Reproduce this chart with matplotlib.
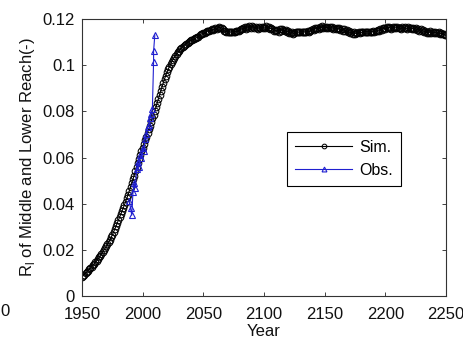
import matplotlib
matplotlib.use("Agg")
import matplotlib.pyplot as plt

plt.rcParams['font.family'] = ['Liberation Sans', 'DejaVu Sans']
plt.rcParams['mathtext.fontset'] = 'custom'
plt.rcParams['mathtext.rm'] = 'Liberation Sans'

# ---------------- data ----------------
sim_years = list(range(1950, 2251))
sim_rising = [
    0.0084, 0.0088, 0.0093, 0.0098, 0.0104, 0.0110, 0.0115, 0.0121, 0.0127, 0.0133,
    0.0140, 0.0146, 0.0153, 0.0160, 0.0167, 0.0175, 0.0182, 0.0190, 0.0198, 0.0206,
    0.0215, 0.0224, 0.0234, 0.0244, 0.0254, 0.0265, 0.0277, 0.0289, 0.0302, 0.0315,
    0.0328, 0.0341, 0.0354, 0.0367, 0.0381, 0.0395, 0.0409, 0.0424, 0.0439, 0.0455,
    0.0471, 0.0488, 0.0505, 0.0522, 0.0540, 0.0558, 0.0575, 0.0592, 0.0609, 0.0626,
    0.0642, 0.0658, 0.0674, 0.0690, 0.0706, 0.0722, 0.0738, 0.0754, 0.0770, 0.0786,
    0.0802, 0.0819, 0.0836, 0.0854, 0.0872, 0.0890, 0.0907, 0.0924, 0.0940, 0.0955,
    0.0969, 0.0982, 0.0994, 0.1005, 0.1015, 0.1024, 0.1033, 0.1041, 0.1048, 0.1055,
    0.1062, 0.1068, 0.1074, 0.1079, 0.1084, 0.1089, 0.1093, 0.1097, 0.1101, 0.1105,
    0.1108, 0.1111, 0.1113, 0.1116, 0.1118, 0.1120, 0.1124, 0.1130, 0.1134, 0.1137,
    0.1139,
]
sim_plateau = [
    0.1141, 0.1143, 0.1146, 0.1150, 0.1148, 0.1153, 0.1157, 0.1152, 0.1158, 0.1162,
    0.1156, 0.1160, 0.1165, 0.1159, 0.1163, 0.1158, 0.1150, 0.1146, 0.1145, 0.1144,
    0.1145, 0.1144, 0.1144, 0.1145, 0.1144, 0.1145, 0.1146, 0.1147, 0.1150, 0.1154,
    0.1158, 0.1155, 0.1161, 0.1164, 0.1158, 0.1166, 0.1162, 0.1168, 0.1163, 0.1170,
    0.1166, 0.1160, 0.1167, 0.1162, 0.1158, 0.1165, 0.1160, 0.1166, 0.1161, 0.1167,
    0.1163, 0.1168, 0.1160, 0.1164, 0.1157, 0.1162, 0.1155, 0.1150, 0.1153, 0.1147,
    0.1152, 0.1145, 0.1155, 0.1149, 0.1158, 0.1151, 0.1146, 0.1153, 0.1142, 0.1148,
    0.1140, 0.1138, 0.1144, 0.1136, 0.1141, 0.1143, 0.1144, 0.1144, 0.1143, 0.1144,
    0.1144, 0.1145, 0.1144, 0.1145, 0.1144, 0.1146, 0.1145, 0.1148, 0.1152, 0.1156,
    0.1153, 0.1160, 0.1157, 0.1163, 0.1158, 0.1166, 0.1161, 0.1168, 0.1163, 0.1167,
    0.1162, 0.1166, 0.1159, 0.1164, 0.1160, 0.1165, 0.1158, 0.1163, 0.1157, 0.1161,
    0.1156, 0.1160, 0.1153, 0.1158, 0.1150, 0.1155, 0.1146, 0.1151, 0.1142, 0.1147,
    0.1139, 0.1144, 0.1137, 0.1142, 0.1136, 0.1141, 0.1138, 0.1143, 0.1140, 0.1142,
    0.1143, 0.1144, 0.1144, 0.1145, 0.1144, 0.1145, 0.1144, 0.1145, 0.1145, 0.1146,
    0.1145, 0.1147, 0.1149, 0.1152, 0.1150, 0.1156, 0.1153, 0.1159, 0.1162, 0.1157,
    0.1164, 0.1160, 0.1166, 0.1161, 0.1158, 0.1165, 0.1160, 0.1167, 0.1162, 0.1165,
    0.1159, 0.1163, 0.1157, 0.1164, 0.1160, 0.1166, 0.1161, 0.1158, 0.1164, 0.1160,
    0.1163, 0.1157, 0.1162, 0.1155, 0.1160, 0.1153, 0.1158, 0.1150, 0.1155, 0.1148,
    0.1152, 0.1144, 0.1148, 0.1140, 0.1145, 0.1141, 0.1146, 0.1138, 0.1143, 0.1139,
    0.1144, 0.1140, 0.1138, 0.1142, 0.1136, 0.1140, 0.1137, 0.1135, 0.1132, 0.1130,
]
sim_values = sim_rising + sim_plateau

obs_years = [1989, 1990, 1991, 1992, 1993, 1994, 1995, 1996, 1997, 1998, 1999,
             2000, 2001, 2002, 2003, 2004, 2005, 2006, 2007, 2008, 2009, 2009, 2010]
obs_values = [0.041, 0.038, 0.035, 0.045, 0.049, 0.047, 0.055, 0.058, 0.056, 0.061,
              0.060, 0.064, 0.063, 0.068, 0.070, 0.073, 0.074, 0.077, 0.079, 0.081,
              0.1015, 0.106, 0.113]

x_ticks = [1950, 2000, 2050, 2100, 2150, 2200, 2250]
y_ticks = [0, 0.02, 0.04, 0.06, 0.08, 0.1, 0.12]
y_ticklabels = ['0', '0.02', '0.04', '0.06', '0.08', '0.1', '0.12']

# ---------------- figure ----------------
W, H = 463, 341
fig = plt.figure(figsize=(W / 100, H / 100), dpi=100)
ax = fig.add_axes([82 / W, (H - 296) / H, 364 / W, 277 / H])

ax.plot(sim_years, sim_values, color='black', lw=0.8, marker='o',
        markersize=4.8, markerfacecolor='none', markeredgecolor='black',
        markeredgewidth=0.75, label='Sim.')
ax.plot(obs_years, obs_values, color='#2020d0', lw=0.8, marker='^',
        markersize=5, markerfacecolor='none', markeredgecolor='#2020d0',
        markeredgewidth=0.8, label='Obs.')

ax.set_xlim(1950, 2250)
ax.set_ylim(0, 0.12)
ax.set_xticks(x_ticks)
ax.set_xticklabels([str(t) for t in x_ticks])
ax.set_yticks(y_ticks)
ax.set_yticklabels(y_ticklabels)
ax.tick_params(direction='in', length=3, width=0.6, top=True, right=True,
               labelsize=12, colors='#222222')
ax.tick_params(axis='x', pad=8)
ax.tick_params(axis='y', pad=5)
ax.tick_params(axis='both', labelcolor='#111111')
for s in ax.spines.values():
    s.set_linewidth(0.8)
    s.set_color('#333333')

ax.set_xlabel('Year', fontsize=12, color='#111111', labelpad=1)
ax.set_ylabel(r'R$_\mathrm{l}$ of Middle and Lower Reach(-)', fontsize=12,
              color='#111111', labelpad=4)

leg = ax.legend(loc='upper left', bbox_to_anchor=(0.563, 0.592), borderaxespad=0,
                fancybox=False, edgecolor='black', framealpha=1, fontsize=11.5,
                handlelength=3.6, handletextpad=0.4, labelspacing=0.5,
                borderpad=0.5, markerscale=0.7)
leg.get_frame().set_linewidth(0.8)

fig.text(5 / W, 1 - 312 / H, '0', ha='center', va='center', fontsize=12,
         color='#111111')

fig.savefig('out.png', dpi=100)
